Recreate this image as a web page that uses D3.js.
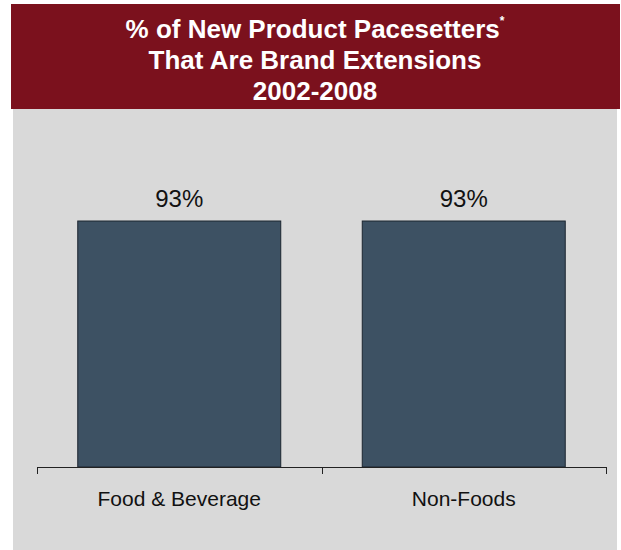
<!DOCTYPE html>
<html>
<head>
<meta charset="utf-8">
<script src="https://cdn.jsdelivr.net/npm/d3@7/dist/d3.min.js"></script>
<style>
  html, body { margin: 0; padding: 0; background: #ffffff; }
  svg { display: block; font-family: "Liberation Sans", Arial, sans-serif; }
</style>
</head>
<body>
<svg id="chart" width="621" height="550"></svg>
<script>
// Chart data
const categories = ["Food & Beverage", "Non-Foods"];
const values = [93, 93];
const valueLabels = ["93%", "93%"];
const titleLines = ["% of New Product Pacesetters", "That Are Brand Extensions", "2002-2008"];

const svg = d3.select("#chart");

// Panel background and header band
svg.append("rect").attr("x", 13).attr("y", 109).attr("width", 604).attr("height", 441).attr("fill", "#d9d9d9");
svg.append("rect").attr("x", 11).attr("y", 4).attr("width", 609).attr("height", 105).attr("fill", "#7b111d");

// Title
const title = svg.append("text")
  .attr("text-anchor", "middle")
  .attr("fill", "#ffffff")
  .attr("font-weight", "bold")
  .attr("font-size", 26);
const baselines = [38, 69, 100];
titleLines.forEach((line, i) => {
  const t = title.append("tspan").attr("x", 315).attr("y", baselines[i]).text(line);
  if (i === 0) {
    t.append("tspan").attr("font-size", 12).attr("dy", -13).text("*");
  }
});

// Scales
const x = d3.scaleBand()
  .domain(categories)
  .range([37, 606])
  .paddingInner(0.2865)
  .paddingOuter(0.14325);

const y = d3.scaleLinear()
  .domain([0, 100])
  .range([467, 202.5]);

// Bars
svg.append("g").selectAll("rect")
  .data(values)
  .join("rect")
  .attr("x", (d, i) => x(categories[i]))
  .attr("y", d => y(d))
  .attr("width", x.bandwidth())
  .attr("height", d => y(0) - y(d))
  .attr("fill", "#3d5163")
  .attr("stroke", "#1c2530")
  .attr("stroke-width", 1);

// Value labels
svg.append("g").selectAll("text")
  .data(values)
  .join("text")
  .attr("x", (d, i) => x(categories[i]) + x.bandwidth() / 2)
  .attr("y", d => y(d) - 14)
  .attr("text-anchor", "middle")
  .attr("font-size", 24)
  .attr("fill", "#111111")
  .text((d, i) => valueLabels[i]);

// Category axis with ticks at band boundaries
const step = x.step();
const x0 = x.range()[0];
const axisG = svg.append("g").attr("stroke", "#222222").attr("stroke-width", 1);
axisG.append("line")
  .attr("x1", x0).attr("x2", x.range()[1])
  .attr("y1", y(0) + 0.5).attr("y2", y(0) + 0.5);
d3.range(categories.length + 1).forEach(i => {
  const tx = Math.round(x0 + i * step) + 0.5;
  axisG.append("line")
    .attr("x1", tx).attr("x2", tx)
    .attr("y1", y(0)).attr("y2", y(0) + 7);
});

svg.append("g").selectAll("text")
  .data(categories)
  .join("text")
  .attr("x", d => x(d) + x.bandwidth() / 2)
  .attr("y", 506)
  .attr("text-anchor", "middle")
  .attr("font-size", 21)
  .attr("fill", "#111111")
  .text(d => d);
</script>
</body>
</html>
